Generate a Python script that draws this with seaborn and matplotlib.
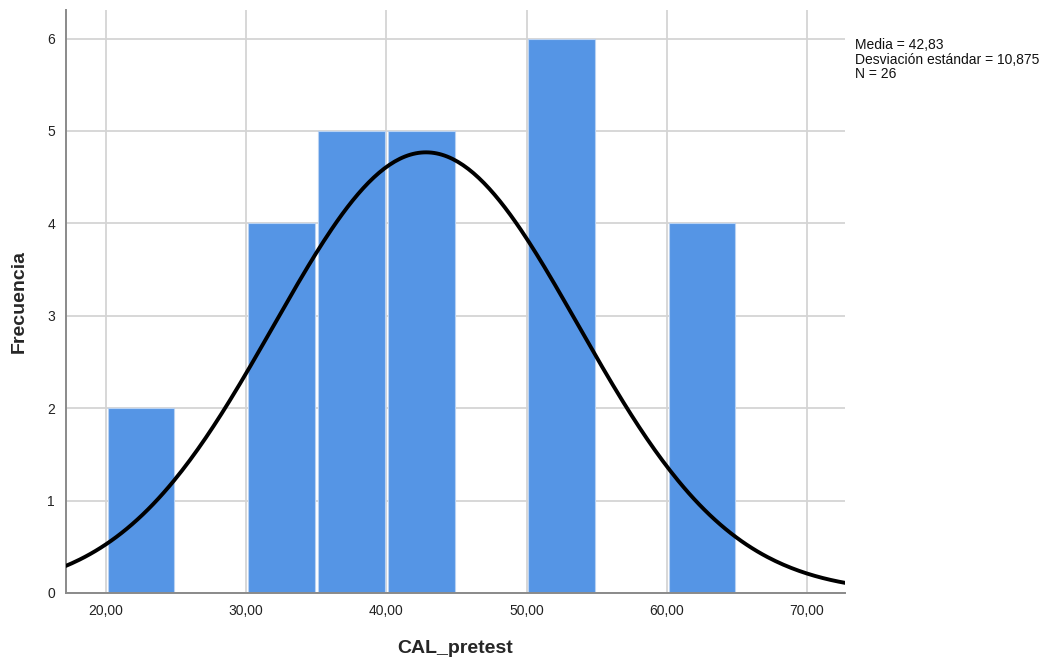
import numpy as np
import pandas as pd
import seaborn as sns
import matplotlib.pyplot as plt

# Histogram data (bin start -> frequency)
bin_starts = [20, 25, 30, 35, 40, 45, 50, 55, 60]
frequencies = [2, 0, 4, 5, 5, 0, 6, 0, 4]
bin_width = 5

# Summary stats shown in the legend box
media = 42.83
desviacion = 10.875
n_total = 26

x_ticks = [20, 30, 40, 50, 60, 70]
x_tick_labels = ["20,00", "30,00", "40,00", "50,00", "60,00", "70,00"]
y_ticks = [0, 1, 2, 3, 4, 5, 6]

bar_color = "#5595e5"

sns.set_theme(style="white")
plt.rcParams["font.family"] = ["Liberation Sans", "DejaVu Sans"]

df = pd.DataFrame({"inicio": bin_starts, "frecuencia": frequencies})
df["centro"] = df["inicio"] + bin_width / 2
edges = bin_starts + [bin_starts[-1] + bin_width]

fig = plt.figure(figsize=(10.56, 6.64), dpi=100)
ax = fig.add_axes([0.0625, 0.107, 0.7375, 0.878])

# shrink leaves a thin gap between bars so the grid shows through, like SPSS
sns.histplot(data=df, x="centro", weights="frecuencia", bins=edges, shrink=0.95,
             color=bar_color, alpha=1, edgecolor="#b9d2f2", linewidth=0.8,
             ax=ax, zorder=2)

# Normal curve scaled to counts
xs = np.linspace(17.0, 73.0, 300)
ys = n_total * bin_width * np.exp(-0.5 * ((xs - media) / desviacion) ** 2) / (desviacion * np.sqrt(2 * np.pi))
sns.lineplot(x=xs, y=ys, color="black", linewidth=2.8, ax=ax, zorder=3)

ax.set_xlim(17.15, 72.7)
ax.set_ylim(0, 6.31)
ax.set_xticks(x_ticks)
ax.set_xticklabels(x_tick_labels, fontsize=10, color="#222222")
ax.set_yticks(y_ticks)
ax.set_yticklabels([str(v) for v in y_ticks], fontsize=10, color="#222222")
ax.tick_params(axis="both", length=0, pad=8)

ax.grid(True, color="#d4d4d4", linewidth=1.3, zorder=0)
ax.set_axisbelow(True)
for side in ["top", "right"]:
    ax.spines[side].set_visible(False)
for side in ["left", "bottom"]:
    ax.spines[side].set_color("#8a8a8a")
    ax.spines[side].set_linewidth(1.4)

ax.set_xlabel("CAL_pretest", fontsize=14, fontweight="bold", labelpad=16)
ax.set_ylabel("Frecuencia", fontsize=14, fontweight="bold", labelpad=14)

fig.text(855 / 1056, 1 - 38 / 664,
         "Media = 42,83\nDesviación estándar = 10,875\nN = 26",
         fontsize=10, va="top", ha="left", linespacing=1.05, color="#111111")

fig.savefig("out.png", dpi=100)
